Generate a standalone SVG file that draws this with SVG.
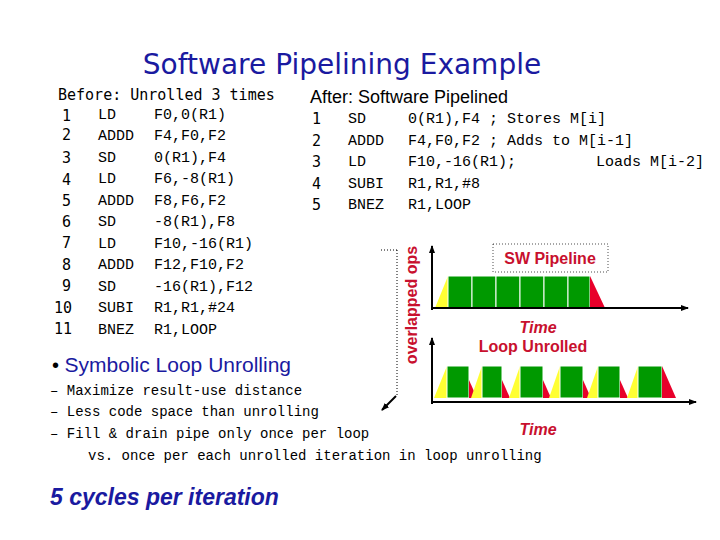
<svg xmlns="http://www.w3.org/2000/svg" width="720" height="540" viewBox="0 0 720 540">
<defs>
<marker id="ah" markerWidth="8" markerHeight="8" refX="7" refY="4" orient="auto" markerUnits="userSpaceOnUse"><path d="M0,1 L8,4 L0,7 z" fill="#000"/></marker>
<style>
.m{font-family:"DejaVu Sans Mono","Liberation Mono",monospace;font-size:15px;fill:#000}
.c{font-family:"Liberation Mono",monospace;font-size:15px;fill:#000}
.l{font-family:"Liberation Mono",monospace;font-size:14px;fill:#000}
.b{font-family:"Liberation Sans",Arial,sans-serif;font-weight:bold;fill:#c8102e;font-size:16px}
.g{fill:#009900;stroke:#fff;stroke-width:1}
.y{fill:#ffff33}
.r{fill:#e8002a}
</style>
</defs>
<rect width="720" height="540" fill="#fff"/>
<text x="342" y="74" text-anchor="middle" font-family="DejaVu Sans,sans-serif" font-size="28" fill="#1a1aa0">Software Pipelining Example</text>
<g id="before">
<text x="58" y="100" class="m" font-size="16">Before: Unrolled 3 times</text>
<g class="m" font-size="16">
<text x="62" y="121">1</text><text x="62" y="140">2</text><text x="62" y="163">3</text><text x="62" y="185">4</text><text x="62" y="206">5</text><text x="62" y="227">6</text><text x="62" y="248">7</text><text x="62" y="270">8</text><text x="62" y="291">9</text><text x="54" y="313">10</text><text x="54" y="334">11</text>
</g>
<g class="c">
<text x="98" y="119">LD</text><text x="154" y="119">F0,0(R1)</text>
<text x="98" y="140">ADDD</text><text x="154" y="140">F4,F0,F2</text>
<text x="98" y="162">SD</text><text x="154" y="162">0(R1),F4</text>
<text x="98" y="183">LD</text><text x="154" y="183">F6,-8(R1)</text>
<text x="98" y="205">ADDD</text><text x="154" y="205">F8,F6,F2</text>
<text x="98" y="226">SD</text><text x="154" y="226">-8(R1),F8</text>
<text x="98" y="248">LD</text><text x="154" y="248">F10,-16(R1)</text>
<text x="98" y="269">ADDD</text><text x="154" y="269">F12,F10,F2</text>
<text x="98" y="291">SD</text><text x="154" y="291">-16(R1),F12</text>
<text x="98" y="312">SUBI</text><text x="154" y="312">R1,R1,#24</text>
<text x="98" y="334">BNEZ</text><text x="154" y="334">R1,LOOP</text>
</g>
</g>
<g id="after">
<text x="310" y="103" font-family="Liberation Sans,sans-serif" font-size="18" fill="#000">After: Software Pipelined</text>
<g class="m" font-size="16"><text x="312" y="124">1</text><text x="312" y="146">2</text><text x="312" y="167">3</text><text x="312" y="189">4</text><text x="312" y="210">5</text></g>
<g class="c">
<text x="348" y="123">SD</text><text x="408" y="123">0(R1),F4 ; Stores M[i]</text>
<text x="348" y="145">ADDD</text><text x="408" y="145">F4,F0,F2 ; Adds to M[i-1]</text>
<text x="348" y="166">LD</text><text x="408" y="166">F10,-16(R1);</text><text x="596" y="166">Loads M[i-2]</text>
<text x="348" y="188">SUBI</text><text x="408" y="188">R1,R1,#8</text>
<text x="348" y="209">BNEZ</text><text x="408" y="209">R1,LOOP</text>
</g>
</g>
<g id="bullets">
<text x="52" y="372" font-family="Liberation Sans,sans-serif" font-size="20" fill="#000">• <tspan fill="#1a1aa0" font-size="21">Symbolic Loop Unrolling</tspan></text>
<g class="l">
<text x="50" y="395">–  Maximize result-use distance</text>
<text x="50" y="416">–  Less code space than unrolling</text>
<text x="50" y="438">–  Fill &amp; drain pipe only once per loop</text>
<text x="88" y="460">vs. once per each unrolled iteration in loop unrolling</text>
</g>
<text x="50" y="505" font-family="Liberation Sans,sans-serif" font-style="italic" font-weight="bold" font-size="23" fill="#1a1aa0">5 cycles per iteration</text>
</g>
<g id="chart">
<text transform="translate(417,305) rotate(-90)" text-anchor="middle" class="b" font-size="15">overlapped ops</text>
<path d="M397,250 L380,250 M397,250 V396" stroke="#000" stroke-dasharray="1,2" fill="none"/>
<line x1="396" y1="396" x2="382" y2="410" stroke="#000" stroke-width="2" marker-end="url(#ah)"/>
<rect x="493" y="244" width="115" height="28" fill="none" stroke="#000" stroke-dasharray="1,2" stroke-width="0.7"/>
<text x="550" y="264" text-anchor="middle" class="b">SW Pipeline</text>
<polygon class="y" points="435,308 448,276 448,308"/>
<rect class="g" x="448" y="276" width="24" height="32"/><rect class="g" x="472" y="276" width="24" height="32"/><rect class="g" x="496" y="276" width="24" height="32"/><rect class="g" x="520" y="276" width="24" height="32"/><rect class="g" x="544" y="276" width="24" height="32"/><rect class="g" x="568" y="276" width="22" height="32"/>
<polygon class="r" points="590,276 605,308 590,308"/>
<line x1="432" y1="310" x2="432" y2="246" stroke="#000" stroke-width="2" marker-end="url(#ah)"/>
<line x1="432" y1="308" x2="688" y2="308" stroke="#000" stroke-width="2" marker-end="url(#ah)"/>
<text x="538" y="333" text-anchor="middle" class="b" font-style="italic">Time</text>
<text x="533" y="352" text-anchor="middle" class="b">Loop Unrolled</text>
<line x1="432" y1="404" x2="432" y2="338" stroke="#000" stroke-width="2" marker-end="url(#ah)"/>
<line x1="432" y1="402" x2="696" y2="402" stroke="#000" stroke-width="2" marker-end="url(#ah)"/>
<g>
<polygon class="y" points="434,398 447,366 447,398"/><rect class="g" x="447" y="366" width="22" height="32"/><polygon class="r" points="469,380 477,398 469,398"/>
<polygon class="y" points="471,398 482,366 482,398"/><rect class="g" x="482" y="366" width="20" height="32"/><polygon class="r" points="502,380 510,398 502,398"/>
<polygon class="y" points="509,398 520,366 520,398"/><rect class="g" x="520" y="366" width="23" height="32"/><polygon class="r" points="543,380 551,398 543,398"/>
<polygon class="y" points="549,398 560,366 560,398"/><rect class="g" x="560" y="366" width="23" height="32"/><polygon class="r" points="583,380 591,398 583,398"/>
<polygon class="y" points="587,398 598,366 598,398"/><rect class="g" x="598" y="366" width="22" height="32"/><polygon class="r" points="620,380 628,398 620,398"/>
<polygon class="y" points="627,398 638,366 638,398"/><rect class="g" x="638" y="366" width="24" height="32"/><polygon class="r" points="662,366 676,398 662,398"/>
</g>
<text x="538" y="435" text-anchor="middle" class="b" font-style="italic">Time</text>
</g>
</svg>
